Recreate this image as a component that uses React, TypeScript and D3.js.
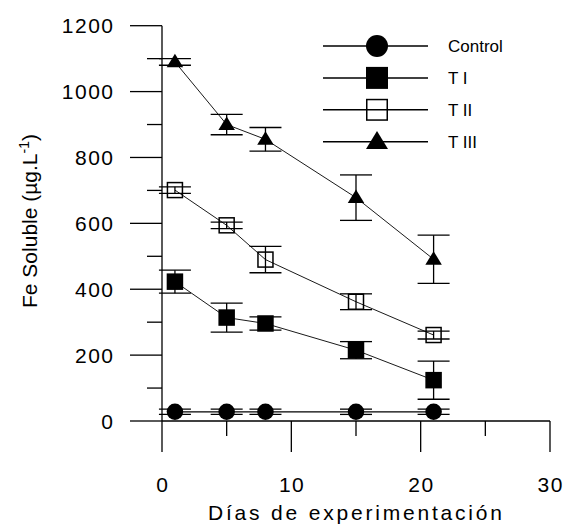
import React, { useRef, useEffect } from 'react';
import * as d3 from 'd3';

const days = [1, 5, 8, 15, 21];
const control = [28, 28, 28, 28, 28];
const controlErr = [8, 8, 8, 8, 8];
const t1 = [423, 314, 296, 215, 124];
const t1Err = [35, 44, 20, 26, 58];
const t2 = [701, 594, 490, 362, 261];
const t2Err = [10, 10, 40, 24, 12];
const t3 = [1090, 900, 855, 678, 491];
const t3Err = [10, 31, 36, 69, 73];

const seriesNames = ['Control', 'T I', 'T II', 'T III'];
const seriesShapes = ['circle', 'square', 'openSquare', 'triangle'];
const seriesValues = [control, t1, t2, t3];
const seriesErrors = [controlErr, t1Err, t2Err, t3Err];

const xTicks = [0, 10, 20, 30];
const xMinor = [5, 15, 25];
const yTicks = [0, 200, 400, 600, 800, 1000, 1200];
const yMinor = [100, 300, 500, 700, 900, 1100];

const W = 567;
const H = 526;
const FONT = 'Liberation Sans, Arial, sans-serif';

const App = () => {
  const svgRef = useRef<SVGSVGElement>(null);

  useEffect(() => {
    const svg = d3.select(svgRef.current);
    svg.selectAll('*').remove();

    const x = d3.scaleLinear().domain([0, 30]).range([162, 550]);
    const y = d3.scaleLinear().domain([0, 1200]).range([421, 25.7]);

    const g = svg.append('g');

    // axes
    const axis = g.append('g').attr('stroke', '#000').attr('stroke-width', 1.3);
    axis.append('line').attr('x1', x(0)).attr('x2', x(0)).attr('y1', y(1200)).attr('y2', y(0));
    axis.append('line').attr('x1', x(0)).attr('x2', x(30)).attr('y1', y(0)).attr('y2', y(0));
    yTicks.forEach(t => {
      axis.append('line').attr('x1', x(0) - 32).attr('x2', x(0)).attr('y1', y(t)).attr('y2', y(t));
    });
    yMinor.forEach(t => {
      axis.append('line').attr('x1', x(0) - 15).attr('x2', x(0)).attr('y1', y(t)).attr('y2', y(t));
    });
    xTicks.forEach(t => {
      axis.append('line').attr('x1', x(t)).attr('x2', x(t)).attr('y1', y(0)).attr('y2', y(0) + 31);
    });
    xMinor.forEach(t => {
      axis.append('line').attr('x1', x(t)).attr('x2', x(t)).attr('y1', y(0)).attr('y2', y(0) + 15);
    });

    g.selectAll('.ytl')
      .data(yTicks)
      .enter().append('text')
      .attr('x', 114.5)
      .attr('y', d => y(d) + 7.5)
      .attr('text-anchor', 'end')
      .style('font-family', FONT)
      .style('font-size', '21px')
      .style('letter-spacing', '1.5px')
      .text(d => d);

    g.selectAll('.xtl')
      .data(xTicks)
      .enter().append('text')
      .attr('x', d => x(d) + 0.75)
      .attr('y', 492)
      .attr('text-anchor', 'middle')
      .style('font-family', FONT)
      .style('font-size', '21px')
      .style('letter-spacing', '1.5px')
      .text(d => d);

    g.append('text')
      .attr('x', 355)
      .attr('y', 520)
      .attr('text-anchor', 'middle')
      .attr('textLength', 294)
      .attr('lengthAdjust', 'spacing')
      .style('font-family', FONT)
      .style('font-size', '21px')
      .text('Días de experimentación');

    const yt = g.append('text')
      .attr('transform', 'translate(37,221) rotate(-90)')
      .attr('text-anchor', 'middle')
      .style('font-family', FONT)
      .style('font-size', '21px');
    yt.append('tspan').text('Fe Soluble (µg.L');
    yt.append('tspan').attr('dy', -8).style('font-size', '14px').text('-1');
    yt.append('tspan').attr('dy', 8).text(')');

    const marker = (sel, shape, cx, cy, s) => {
      if (shape === 'circle') {
        sel.append('circle').attr('cx', cx).attr('cy', cy).attr('r', s / 2).attr('fill', '#000');
      } else if (shape === 'square') {
        sel.append('rect').attr('x', cx - s / 2).attr('y', cy - s / 2).attr('width', s).attr('height', s).attr('fill', '#000');
      } else if (shape === 'openSquare') {
        sel.append('rect').attr('x', cx - s / 2 + 0.75).attr('y', cy - s / 2 + 0.75)
          .attr('width', s - 1.5).attr('height', s - 1.5)
          .attr('fill', 'none').attr('stroke', '#000').attr('stroke-width', 1.5);
      } else {
        const h = s * 0.82;
        sel.append('path')
          .attr('d', `M${cx},${cy - h * 0.6}L${cx + s / 2},${cy + h * 0.4}L${cx - s / 2},${cy + h * 0.4}Z`)
          .attr('fill', '#000');
      }
    };

    const line = d3.line<number>()
      .x((d, i) => x(days[i]))
      .y(d => y(d));

    seriesValues.forEach((vals, si) => {
      const sg = g.append('g');
      sg.append('path')
        .datum(vals)
        .attr('d', line)
        .attr('fill', 'none')
        .attr('stroke', '#000')
        .attr('stroke-width', si === 0 ? 1.2 : 0.9);
      vals.forEach((v, i) => {
        const e = seriesErrors[si][i];
        const cx = x(days[i]);
        const eb = sg.append('g').attr('stroke', '#000').attr('stroke-width', 1.3);
        eb.append('line').attr('x1', cx).attr('x2', cx).attr('y1', y(v + e)).attr('y2', y(v - e));
        eb.append('line').attr('x1', cx - 16).attr('x2', cx + 16).attr('y1', y(v + e)).attr('y2', y(v + e));
        eb.append('line').attr('x1', cx - 16).attr('x2', cx + 16).attr('y1', y(v - e)).attr('y2', y(v - e));
      });
      vals.forEach((v, i) => marker(sg, seriesShapes[si], x(days[i]), y(v), 16.5));
    });

    // legend
    const lg = g.append('g');
    seriesNames.forEach((name, i) => {
      const cy = 46 + i * 31.9;
      lg.append('line').attr('x1', 323).attr('x2', 428).attr('y1', cy).attr('y2', cy)
        .attr('stroke', '#000').attr('stroke-width', 1.5);
      marker(lg, seriesShapes[i], 377, cy, 22);
      lg.append('text')
        .attr('x', 448)
        .attr('y', cy + 6)
        .style('font-family', FONT)
        .style('font-size', '17px')
        .text(name);
    });
  }, []);

  return (
    <svg
      ref={svgRef}
      width={W}
      height={H}
      style={{ position: 'absolute', left: 0, top: 0, background: '#fff' }}
    ></svg>
  );
};

export default App;
